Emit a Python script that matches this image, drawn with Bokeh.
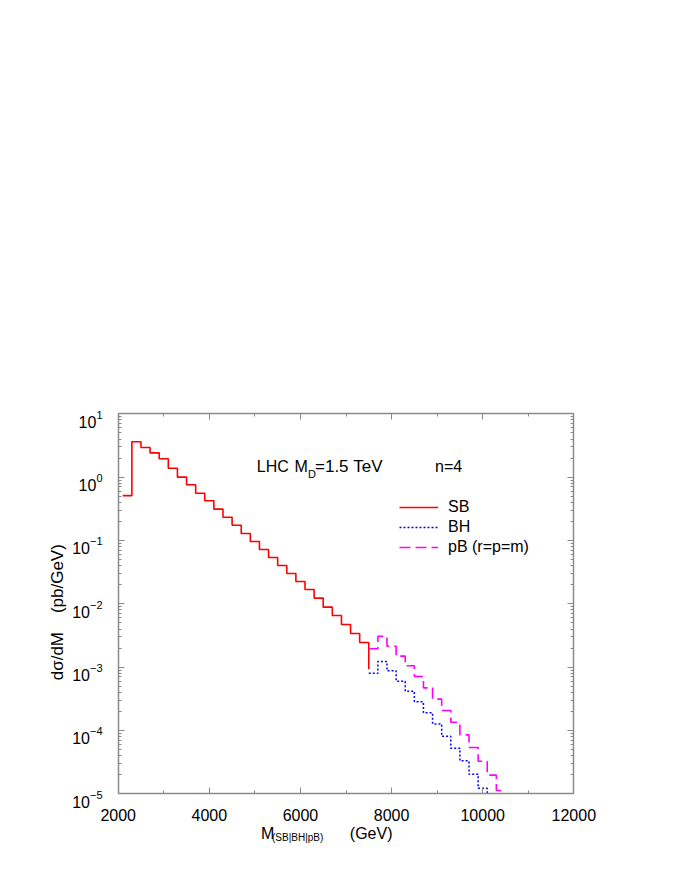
import math
from bokeh.plotting import figure
from bokeh.models import (Label, Legend, LegendItem, LinearAxis, LogAxis,
                          Range1d, SingleIntervalTicker, LogTicker)
from bokeh.embed import file_html
from bokeh.resources import INLINE

# ---------------- data ----------------
sb_edges = [2100, 2300, 2500, 2700, 2900, 3100, 3300, 3500, 3700, 3900,
            4100, 4300, 4500, 4700, 4900, 5100, 5300, 5500, 5700, 5900,
            6100, 6300, 6500, 6700, 6900, 7100, 7300, 7500]
sb_vals = [0.51, 3.61, 2.94, 2.42, 1.95, 1.38, 1.00, 0.757, 0.558, 0.423,
           0.312, 0.233, 0.174, 0.129, 0.0964, 0.0721, 0.0539, 0.0403, 0.0301,
           0.0225, 0.0168, 0.0123, 0.00885, 0.00653, 0.00471, 0.00340, 0.00245]
sb_tail = 0.00093

bh_edges = [7500, 7700, 7900, 8100, 8300, 8500, 8700, 8900, 9100, 9300,
            9500, 9700, 9900, 10100]
bh_vals = [8.0e-4, 1.23e-3, 8.75e-4, 6.0e-4, 4.17e-4, 2.83e-4, 1.9e-4,
           1.27e-4, 8.1e-5, 5.25e-5, 3.32e-5, 2.04e-5, 1.22e-5]

pb_edges = [7500, 7700, 7900, 8100, 8300, 8500, 8700, 8900, 9100, 9300,
            9500, 9700, 9900, 10100, 10300, 10500]
pb_vals = [1.95e-3, 3.08e-3, 2.14e-3, 1.49e-3, 1.05e-3, 7.11e-4, 4.71e-4,
           3.12e-4, 2.07e-4, 1.35e-4, 8.53e-5, 5.38e-5, 3.27e-5, 1.97e-5, 1.13e-5]

x_min, x_max = 2000, 12000
y_min, y_max = 1e-5, 10.0
x_ticks = [2000, 4000, 6000, 8000, 10000, 12000]
y_tick_exponents = [-5, -4, -3, -2, -1, 0, 1]

# ---------------- layout (pixels) ----------------
W, H = 676, 880
BOX_L, BOX_R, BOX_T, BOX_B = 117.7, 573.3, 413.3, 793.3
FONT = "Liberation Sans"
AX = "#8a8a8a"
NB = "\u00a0"

PPX = (BOX_R - BOX_L) / (x_max - x_min)
PPD = (BOX_B - BOX_T) / (math.log10(y_max) - math.log10(y_min))


def dx(px):
    return x_min + (px - BOX_L) / PPX


def dy(py):
    return 10 ** (math.log10(y_max) - (py - BOX_T) / PPD)


p = figure(width=W, height=H, output_backend="svg", toolbar_location=None,
           x_range=Range1d(dx(0), dx(W)), y_range=Range1d(dy(H), dy(0)),
           y_axis_type="log", min_border=0,
           min_border_left=0, min_border_right=0,
           min_border_top=0, min_border_bottom=0)
p.grid.visible = False
p.outline_line_color = None
p.background_fill_color = "white"
p.border_fill_color = "white"

xt = SingleIntervalTicker(interval=2000, num_minor_ticks=2)
yt = LogTicker(num_minor_ticks=10)

bottom = p.xaxis[0]
left = p.yaxis[0]
top = LinearAxis()
right = LogAxis()
p.add_layout(top, "above")
p.add_layout(right, "right")

for ax, tick, loc in [(bottom, xt, y_min), (top, xt, y_max),
                      (left, yt, x_min), (right, yt, x_max)]:
    ax.ticker = tick
    ax.fixed_location = loc
    ax.bounds = (x_min, x_max) if tick is xt else (y_min, y_max)
    ax.major_label_text_color = None
    ax.major_label_text_font_size = "0px"
    ax.major_label_standoff = 0
    ax.axis_label = None
    ax.axis_line_color = AX
    ax.axis_line_width = 1.5
    ax.major_tick_line_color = AX
    ax.minor_tick_line_color = AX
    ax.major_tick_in = 6
    ax.major_tick_out = 0
    ax.minor_tick_in = 3
    ax.minor_tick_out = 0

# ---------------- histograms ----------------
r_sb = p.step(x=sb_edges, y=sb_vals + [sb_tail], mode="after",
              line_color="#ff0000", line_width=1.6)
r_bh = p.step(x=bh_edges, y=bh_vals + [y_min], mode="after",
              line_color="#0000ff", line_width=1.5, line_dash="2 2")
r_pb = p.step(x=pb_edges, y=pb_vals + [pb_vals[-1]], mode="after",
              line_color="#ff00ff", line_width=1.6, line_dash="11 5")

legend = Legend(items=[LegendItem(label="SB", renderers=[r_sb]),
                       LegendItem(label="BH", renderers=[r_bh]),
                       LegendItem(label="pB (r=p=m)", renderers=[r_pb])],
                location=(399, round(H - 556.7)), padding=0, margin=0, spacing=0,
                glyph_width=39, glyph_height=20, label_height=20,
                label_standoff=10, label_text_font=FONT,
                label_text_font_size="16px", label_text_color="black",
                border_line_color=None, background_fill_alpha=0)
p.add_layout(legend)


def lab(x, y, text, size="16px", xo=0, yo=0, align="left",
        baseline="alphabetic", angle=0):
    p.add_layout(Label(x=x, y=y, x_offset=xo, y_offset=yo, text=text,
                       text_font=FONT, text_font_size=size, text_color="black",
                       text_baseline=baseline, text_align=align, angle=angle))


# x tick labels
for t in x_ticks:
    lab(t, y_min, str(t), yo=-21, align="center")

# y tick labels 10^n
for e in y_tick_exponents:
    exp_txt = str(e).replace("-", "\u2212")
    w = (0.556 * 11) * len(str(abs(e))) + (0.584 * 11 if e < 0 else 0)
    lab(dx(102 - w), 10.0 ** e, "10", yo=-8, align="right")
    lab(dx(102), 10.0 ** e, exp_txt, size="11px", yo=-1, align="right")

# in-plot annotation
lab(dx(256.3), dy(466), "LHC")
lab(dx(294), dy(466), "M")
lab(dx(307.5), dy(473), "D", size="11px")
lab(dx(314.5), dy(466), "=1.5" + NB + "TeV", size="17px")
lab(dx(434.6), dy(466), "n=4")

# axis titles
lab(dx(260.5), dy(833), "M")
lab(dx(271.5), dy(837), "(SB|BH|pB)", size="10px")
lab(dx(349.3), dy(833), "(GeV)")
lab(dx(56.7), dy(611.7), "d\u03c3/dM" + NB * 4 + "(pb/GeV)", size="17px",
    align="center", baseline="middle", angle=math.pi / 2)

open("out.html", "w").write(file_html(p, INLINE))
